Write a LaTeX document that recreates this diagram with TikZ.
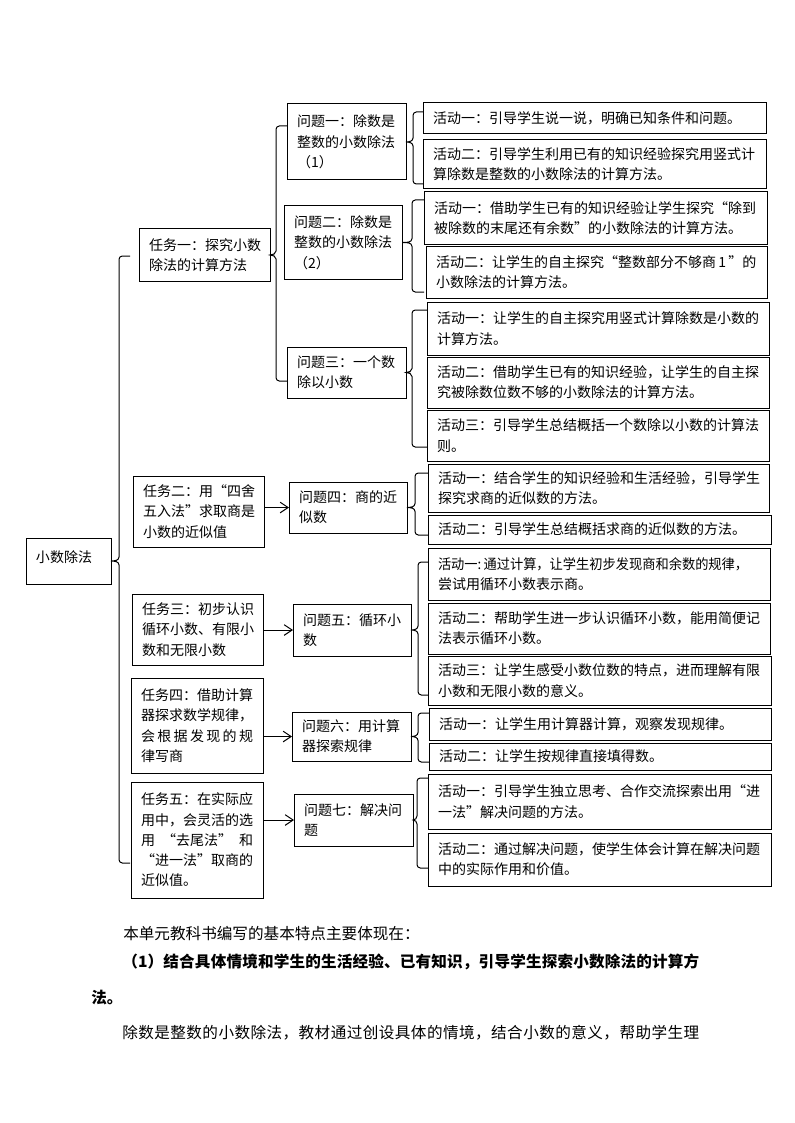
\documentclass[tikz,border=0pt]{standalone}
\usepackage{fontspec}
\setmainfont{Noto Sans CJK SC}
\usepackage{graphicx}
\usetikzlibrary{arrows.meta,calc}
\def\SpreadA#1{#1\SpreadB}
\def\SpreadB#1{\ifx\relax#1\else\hfil#1\expandafter\SpreadB\fi}
\newcommand\lqq{\makebox[1em][r]{“}}
\newcommand\rqq{\makebox[1em][l]{”}}
\tikzset{
  box/.style={draw, line width=0.75pt, anchor=north west, inner xsep=7.5pt, inner ysep=0pt,
    outer sep=0pt, align=left, font=\fontsize{10.5pt}{15.2pt}\selectfont},
  conn/.style={line width=0.75pt},
  arr/.style={line width=0.75pt, -{Straight Barb[length=6pt,width=8pt]}},
  para/.style={anchor=west, inner sep=0pt, font=\fontsize{11.7pt}{14pt}\selectfont},
  parab/.style={anchor=west, inner sep=0pt, font=\fontsize{11.7pt}{14pt}\selectfont\bfseries},
}
% box: name, x, y, width, height, text   (pixel units)
\newcommand\bx[6]{%
  \pgfmathsetmacro\bxw{#4*0.75}%
  \pgfmathsetmacro\bxh{#5*0.75}%
  \pgfmathsetmacro\bxt{#4*0.75-15}%
  \node[box, minimum width=\bxw pt, minimum height=\bxh pt, text width=\bxt pt] (#1) at (#2,#3) {#6};}
% bracket: parent, x of line, top y, bottom y, x of hook ends
\newcommand\brk[5]{%
  \draw[conn] let \p1=(#1.east), \p2=(#2,#3), \p3=(#5,#4) in
    (\x3,\y2) -- (\x2+2.5pt,\y2) to[out=180,in=90] (\x2,\y2-2.5pt)
    -- (\x2,\y1+3pt) to[out=270,in=0] (\x1,\y1) to[out=0,in=90] (\x2,\y1-3pt)
    -- (\x2,\y3+2.5pt) to[out=270,in=180] (\x2+2.5pt,\y3) -- (\x3,\y3);}
\begin{document}
\begin{tikzpicture}[x=0.75pt,y=-0.75pt]
\fill[white] (0,0) rectangle (794,1123);
\useasboundingbox (0,0) rectangle (794,1123);

% root
\bx{root}{26}{538}{85}{46}{小数除法\\[-8pt]\mbox{}}

% tasks
\bx{t1}{139}{229}{131}{52}{任务一：探究小数\\除法的计算方法}
\bx{t2}{133}{476}{131}{71}{任务二：用\lqq{}四舍\\五入法\rqq{}求取商是\\小数的近似值}
\bx{t3}{132}{594}{131}{71}{任务三：初步认识\\循环小数、有限小\\数和无限小数}
\bx{t4}{131}{678}{132}{95}{任务四：借助计算\\器探求数学规律，\\\leavevmode\hbox to 8em{\SpreadA 会根据发现的规\relax}\\律写商}
\bx{t5}{131}{782}{132}{116}{任务五：在实际应\\用中，会灵活的选\\\leavevmode\hbox to 8em{用\hfil\lqq{}去尾法\rqq\hfil{}和}\\\lqq{}进一法\rqq{}取商的\\近似值。}

% problems
\bx{q1}{287}{104}{119}{76}{问题一：除数是\\整数的小数除法\\（1）}
\bx{q2}{284}{206}{118}{73}{问题二：除数是\\整数的小数除法\\（2）}
\bx{q3}{287}{347}{119}{51}{问题三：一个数\\除以小数}
\bx{q4}{289}{482}{118}{51}{问题四：商的近\\似数}
\bx{q5}{293}{604}{118}{52}{问题五：循环小\\数}
\bx{q6}{292}{712}{119}{49}{问题六：用计算\\器探索规律}
\bx{q7}{294}{794}{119}{52}{问题七：解决问\\题}

% activities
\bx{a11}{423}{103}{343}{31}{活动一：引导学生说一说，明确已知条件和问题。}
\bx{a12}{423}{140}{343}{49}{活动二：引导学生利用已有的知识经验探究用竖式计\\算除数是整数的小数除法的计算方法。}
\bx{a21}{424}{192}{343}{52}{活动一：借助学生已有的知识经验让学生探究\lqq{}除到\\被除数的末尾还有余数\rqq{}的小数除法的计算方法。}
\bx{a22}{426}{246}{341}{52}{活动二：让学生的自主探究\lqq{}整数部分不够商\,1\,\rqq{}的\\小数除法的计算方法。}
\bx{a31}{427}{302}{342}{53}{活动一：让学生的自主探究用竖式计算除数是小数的\\计算方法。}
\bx{a32}{427}{357}{342}{51}{活动二：借助学生已有的知识经验，让学生的自主探\\究被除数位数不够的小数除法的计算方法。}
\bx{a33}{427}{410}{342}{51}{活动三：引导学生总结概括一个数除以小数的计算法\\则。}
\bx{a41}{428}{464}{341}{48}{活动一：结合学生的知识经验和生活经验，引导学生\\探究求商的近似数的方法。}
\bx{a42}{428}{515}{343}{29}{活动二：引导学生总结概括求商的近似数的方法。}
\bx{a51}{428}{548}{342}{52}{\scalebox{0.945}[1]{活动一:\,通过计算，让学生初步发现商和余数的规律，}\\尝试用循环小数表示商。}
\bx{a52}{428}{603}{342}{51}{活动二：帮助学生进一步认识循环小数，能用简便记\\法表示循环小数。}
\bx{a53}{428}{656}{343}{49}{活动三：让学生感受小数位数的特点，进而理解有限\\小数和无限小数的意义。}
\bx{a61}{429}{708}{342}{32}{活动一：让学生用计算器计算，观察发现规律。}
\bx{a62}{429}{743}{342}{27}{活动二：让学生按规律直接填得数。}
\bx{a71}{428}{774}{343}{55}{活动一：引导学生独立思考、合作交流探索出用\lqq{}进\\一法\rqq{}解决问题的方法。}
\bx{a72}{428}{833}{343}{53}{活动二：通过解决问题，使学生体会计算在解决问题\\中的实际作用和价值。}

% brackets
\brk{root}{119}{256}{863}{130}
\brk{t1}{276}{126}{381}{287}
\brk{q1}{413}{112}{184}{423}
\brk{q2}{412}{200}{292}{424}
\brk{q3}{412}{310}{447}{427}
\brk{q4}{415}{473}{535}{428}
\brk{q5}{418}{562}{695}{428}
\brk{q6}{418}{713}{762}{429}
\brk{q7}{417}{778}{868}{428}

% arrows
\draw[arr] (q4.west -| t2.east) -- (q4.west);
\draw[arr] (q5.west -| t3.east) -- (q5.west);
\draw[arr] (q6.west -| t4.east) -- (q6.west);
\draw[arr] (q7.west -| t5.east) -- (q7.west);

% text below
\node[para] (l1) at (123,934) {本单元教科书编写的基本特点主要体现在：};
\node[parab] (l2) at (122,962) {\hbox to 432.75pt{\SpreadA （1）结合具体情境和学生的生活经验、已有知识，引导学生探索小数除法的计算方\relax}};
\node[parab] (l3) at (91,998) {法。};
\node[para] (l4) at (122,1033) {\hbox to 432.75pt{\SpreadA 除数是整数的小数除法，教材通过创设具体的情境，结合小数的意义，帮助学生理\relax}};
\end{tikzpicture}
\end{document}
